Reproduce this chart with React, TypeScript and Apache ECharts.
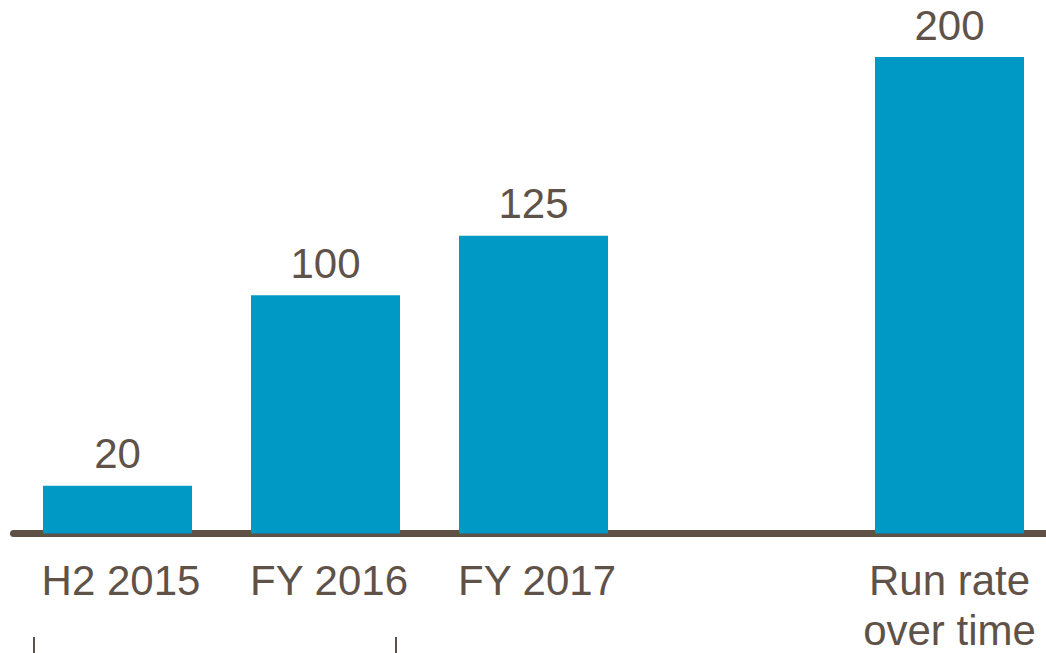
import React, { useEffect, useRef } from "react";
import * as echarts from "echarts";

const categories = ["H2 2015", "FY 2016", "FY 2017", "", "Run rate\nover time"];
const values: (number | null)[] = [20, 100, 125, null, 200];

const TEXT = "#5f5248";
const BAR = "#0098c5";
const FONT = "'Liberation Sans', Arial, sans-serif";

export default function App() {
  const ref = useRef<HTMLDivElement>(null);
  useEffect(() => {
    if (!ref.current) return;
    const chart = echarts.init(ref.current, null, { renderer: "svg" });
    const catData = categories.map((c, i) =>
      i < 3 ? { value: c, textStyle: { padding: [0, 0, 0, 7] } } : c
    );
    chart.setOption({
      animation: false,
      grid: {
        left: 13.5,
        top: 57,
        right: -7.5,
        bottom: 119.5,
        containLabel: false,
        outerBoundsMode: "none",
      },
      xAxis: {
        type: "category",
        data: catData,
        axisLine: { show: true, lineStyle: { color: "#5f5046", width: 7 } },
        axisTick: { show: false },
        axisLabel: {
          color: TEXT,
          fontSize: 42,
          fontFamily: FONT,
          lineHeight: 50,
          margin: 22,
          interval: 0,
        },
      },
      yAxis: {
        type: "value",
        min: 0,
        max: 200,
        show: false,
        splitLine: { show: false },
      },
      series: [
        {
          type: "bar",
          data: values,
          barWidth: 149,
          itemStyle: { color: BAR },
          label: {
            show: true,
            position: "top",
            distance: 12,
            color: TEXT,
            fontSize: 42,
            lineHeight: 40,
            fontFamily: FONT,
          },
        },
      ],
      graphic: [
        { type: "line", shape: { x1: 34, y1: 637, x2: 34, y2: 653 }, style: { stroke: "#5f5046", lineWidth: 2 } },
        { type: "line", shape: { x1: 396, y1: 637, x2: 396, y2: 653 }, style: { stroke: "#5f5046", lineWidth: 2 } },
      ],
    });
    return () => chart.dispose();
  }, []);
  return (
    <div
      ref={ref}
      style={{ position: "absolute", left: 0, top: 0, width: 1046, height: 653 }}
    />
  );
}
